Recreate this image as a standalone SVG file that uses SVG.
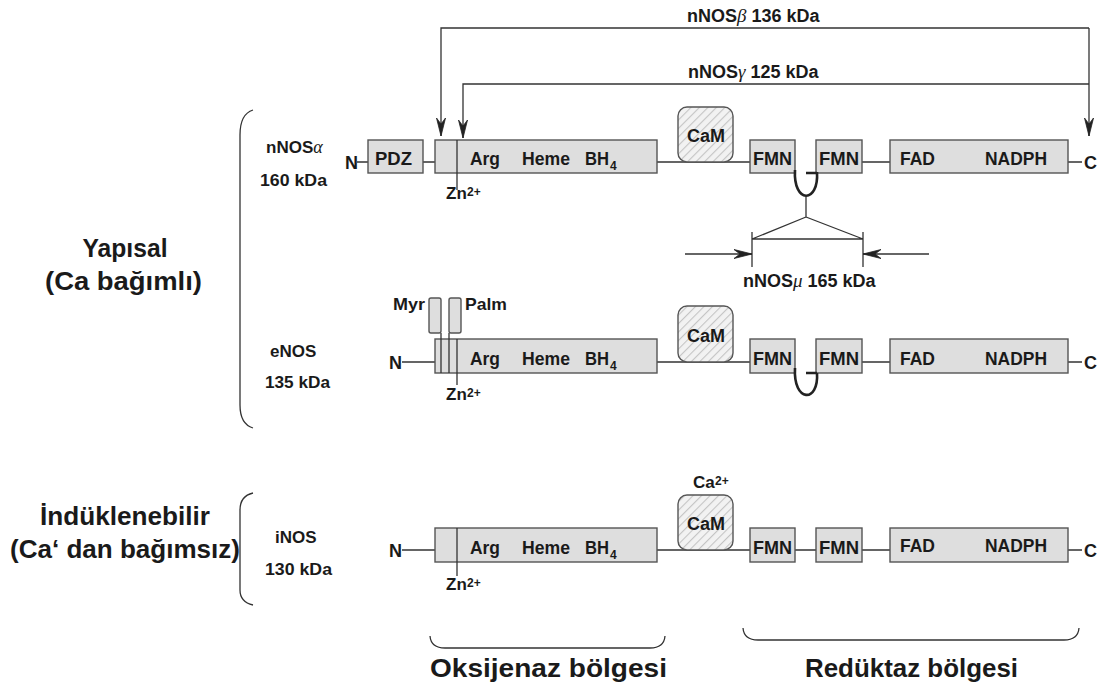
<svg xmlns="http://www.w3.org/2000/svg" width="1109" height="691" viewBox="0 0 1109 691">
<style>
text{font-family:"Liberation Sans",Arial,sans-serif;font-weight:bold;fill:#1a1a1a}
.box{fill:#dedede;stroke:#555;stroke-width:1.4}
.ln{stroke:#333;stroke-width:1.3;fill:none}
.thk{stroke:#222;stroke-width:2.6;fill:none}
.cam{fill:url(#hatch);stroke:#555;stroke-width:1.4}
.bl{font-size:18px}
.sm{font-size:17px}
.tl{font-size:18px}
.sup{font-size:12px}
.big{font-size:25px}
.gr{font-family:"Liberation Serif",serif;font-style:italic;font-weight:normal}
</style>
<defs>
<pattern id="hatch" patternUnits="userSpaceOnUse" width="6" height="6" patternTransform="rotate(45)">
<rect width="6" height="6" fill="#f2f2f2"/>
<line x1="0" y1="0" x2="0" y2="6" stroke="#c4c4c4" stroke-width="2.2"/>
</pattern>
<marker id="arr" markerUnits="userSpaceOnUse" viewBox="-20 -6 21 12" refX="0" refY="0" markerWidth="21" markerHeight="12" orient="auto">
<path d="M0,0 L-18,-4.5 L-12,0 L-18,4.5 Z" fill="#222" stroke="#222" stroke-width="0.8" stroke-linejoin="round"/>
</marker>
</defs>

<g id="connectors">
<path class="ln" d="M1089,28 L441,28 L441,136" marker-end="url(#arr)"/>
<path class="ln" d="M1089,28 L1089,136" marker-end="url(#arr)"/>
<path class="ln" d="M1089,84 L463,84 L463,138" marker-end="url(#arr)"/>
<path class="ln" d="M806,197 L806,217 M806,217 L752,239 M806,217 L863,239 M752,239 L863,239 M752,232 L752,267 M863,232 L863,267"/>
<path class="ln" d="M685,254 L752,254" marker-end="url(#arr)"/>
<path class="ln" d="M929,254 L863,254" marker-end="url(#arr)"/>
</g>

<g id="labels-top">
<text class="tl" x="687" y="22">nNOS<tspan class="gr" font-size="19">β</tspan> 136 kDa</text>
<text class="tl" x="688" y="78">nNOS<tspan class="gr" font-size="19">γ</tspan> 125 kDa</text>
<text class="tl" x="743" y="287">nNOS<tspan class="gr" font-size="19">μ</tspan> 165 kDa</text>
</g>

<g id="group-yapisal">
<path class="ln" d="M253,110 Q240,114 240,135 L240,405 Q240,424 253,428"/>
<text class="big" x="125" y="257" text-anchor="middle" textLength="85" lengthAdjust="spacingAndGlyphs">Yapısal</text>
<text class="big" x="45" y="290" textLength="157" lengthAdjust="spacingAndGlyphs">(Ca  bağımlı)</text>
</g>

<g id="group-induklenebilir">
<path class="ln" d="M253,493 Q240,496 240,510 L240,590 Q240,602 253,605"/>
<text class="big" x="40" y="525" textLength="170" lengthAdjust="spacingAndGlyphs">İndüklenebilir</text>
<text class="big" x="10" y="558" textLength="230" lengthAdjust="spacingAndGlyphs">(Ca‘ dan bağımsız)</text>
</g>

<g id="nNOS-alpha">
<text class="sm" x="266" y="153">nNOS<tspan class="gr" font-size="18">α</tspan></text>
<text class="sm" x="260" y="186" textLength="67" lengthAdjust="spacingAndGlyphs">160 kDa</text>
<text class="bl" x="345" y="169">N</text>
<path class="ln" d="M357,162 L368,162 M423,162 L435,162 M657,162 L750,162 M862,162 L890,162 M1068,162 L1082,162"/>
<rect class="box" x="368" y="140" width="55" height="33"/>
<text class="bl" x="375" y="165" textLength="37" lengthAdjust="spacingAndGlyphs">PDZ</text>
<rect class="box" x="435" y="140" width="222" height="33"/>
<line class="ln" x1="457" y1="140" x2="457" y2="190"/>
<text class="bl" x="470" y="165" textLength="30" lengthAdjust="spacingAndGlyphs">Arg</text>
<text class="bl" x="522" y="165" textLength="48" lengthAdjust="spacingAndGlyphs">Heme</text>
<text class="bl" x="585" y="165" textLength="24" lengthAdjust="spacingAndGlyphs">BH</text>
<text class="sup" x="610" y="170">4</text>
<text class="sm" x="446" y="199">Zn</text><text class="sup" x="467" y="196">2+</text>
<rect class="cam" x="678" y="107" width="55" height="55" rx="9"/>
<text class="bl" x="687" y="142" textLength="38" lengthAdjust="spacingAndGlyphs">CaM</text>
<rect class="box" x="750" y="140" width="45" height="33"/>
<text class="bl" x="753" y="165" textLength="39" lengthAdjust="spacingAndGlyphs">FMN</text>
<rect class="box" x="816" y="140" width="46" height="33"/>
<text class="bl" x="819" y="165" textLength="40" lengthAdjust="spacingAndGlyphs">FMN</text>
<path class="thk" d="M795,170 C793,204 819,204 817,172 M806,173 L817,173"/>
<rect class="box" x="890" y="140" width="178" height="33"/>
<text class="bl" x="900" y="165" textLength="35" lengthAdjust="spacingAndGlyphs">FAD</text>
<text class="bl" x="985" y="165" textLength="62" lengthAdjust="spacingAndGlyphs">NADPH</text>
<text class="bl" x="1084" y="169">C</text>
</g>

<g id="eNOS">
<text class="sm" x="270" y="357">eNOS</text>
<text class="sm" x="265" y="388" textLength="65" lengthAdjust="spacingAndGlyphs">135 kDa</text>
<text class="sm" x="393" y="310" textLength="32" lengthAdjust="spacingAndGlyphs">Myr</text>
<text class="sm" x="465" y="310" textLength="42" lengthAdjust="spacingAndGlyphs">Palm</text>
<rect class="box" x="429" y="298" width="12" height="35" rx="2"/>
<rect class="box" x="449" y="298" width="12" height="35" rx="2"/>
<text class="bl" x="389" y="369">N</text>
<path class="ln" d="M402,362 L435,362 M657,362 L750,362 M862,362 L890,362 M1068,362 L1082,362"/>
<rect class="box" x="435" y="339" width="222" height="34"/>
<path class="ln" d="M441,333 L441,373 M449,333 L449,373 M457,339 L457,385"/>
<text class="bl" x="470" y="365" textLength="30" lengthAdjust="spacingAndGlyphs">Arg</text>
<text class="bl" x="522" y="365" textLength="48" lengthAdjust="spacingAndGlyphs">Heme</text>
<text class="bl" x="585" y="365" textLength="24" lengthAdjust="spacingAndGlyphs">BH</text>
<text class="sup" x="610" y="370">4</text>
<text class="sm" x="446" y="400">Zn</text><text class="sup" x="467" y="397">2+</text>
<rect class="cam" x="678" y="306" width="55" height="56" rx="9"/>
<text class="bl" x="687" y="342" textLength="38" lengthAdjust="spacingAndGlyphs">CaM</text>
<rect class="box" x="750" y="339" width="45" height="34"/>
<text class="bl" x="753" y="365" textLength="39" lengthAdjust="spacingAndGlyphs">FMN</text>
<rect class="box" x="816" y="339" width="46" height="34"/>
<text class="bl" x="819" y="365" textLength="40" lengthAdjust="spacingAndGlyphs">FMN</text>
<path class="thk" d="M795,368 C793,403 819,403 817,373 M806,373 L817,373"/>
<rect class="box" x="890" y="339" width="178" height="34"/>
<text class="bl" x="900" y="365" textLength="35" lengthAdjust="spacingAndGlyphs">FAD</text>
<text class="bl" x="985" y="365" textLength="62" lengthAdjust="spacingAndGlyphs">NADPH</text>
<text class="bl" x="1084" y="369">C</text>
</g>

<g id="iNOS">
<text class="sm" x="275" y="543">iNOS</text>
<text class="sm" x="265" y="575" textLength="67" lengthAdjust="spacingAndGlyphs">130 kDa</text>
<text class="bl" x="389" y="557">N</text>
<path class="ln" d="M402,550 L435,550 M657,550 L750,550 M795,550 L816,550 M862,550 L890,550 M1068,550 L1082,550"/>
<rect class="box" x="435" y="528" width="222" height="34"/>
<line class="ln" x1="457" y1="528" x2="457" y2="576"/>
<text class="bl" x="470" y="554" textLength="30" lengthAdjust="spacingAndGlyphs">Arg</text>
<text class="bl" x="522" y="554" textLength="48" lengthAdjust="spacingAndGlyphs">Heme</text>
<text class="bl" x="585" y="554" textLength="24" lengthAdjust="spacingAndGlyphs">BH</text>
<text class="sup" x="610" y="559">4</text>
<text class="sm" x="446" y="590">Zn</text><text class="sup" x="467" y="587">2+</text>
<text class="sm" x="693" y="488">Ca</text><text class="sup" x="715" y="485">2+</text>
<rect class="cam" x="678" y="495" width="55" height="55" rx="9"/>
<text class="bl" x="687" y="530" textLength="38" lengthAdjust="spacingAndGlyphs">CaM</text>
<rect class="box" x="750" y="528" width="45" height="34"/>
<text class="bl" x="753" y="554" textLength="39" lengthAdjust="spacingAndGlyphs">FMN</text>
<rect class="box" x="816" y="528" width="46" height="34"/>
<text class="bl" x="819" y="554" textLength="40" lengthAdjust="spacingAndGlyphs">FMN</text>
<rect class="box" x="890" y="528" width="178" height="34"/>
<text class="bl" x="900" y="552" textLength="35" lengthAdjust="spacingAndGlyphs">FAD</text>
<text class="bl" x="985" y="552" textLength="62" lengthAdjust="spacingAndGlyphs">NADPH</text>
<text class="bl" x="1084" y="557">C</text>
</g>

<g id="oksijenaz">
<path class="ln" d="M430,636 Q431,648 445,648 L650,648 Q664,648 665,636"/>
<text class="big" x="430" y="677" textLength="237" lengthAdjust="spacingAndGlyphs">Oksijenaz bölgesi</text>
</g>
<g id="reduktaz">
<path class="ln" d="M743,628 Q744,640 758,640 L1064,640 Q1078,640 1079,628"/>
<text class="big" x="805" y="677" textLength="213" lengthAdjust="spacingAndGlyphs">Redüktaz bölgesi</text>
</g>
</svg>
